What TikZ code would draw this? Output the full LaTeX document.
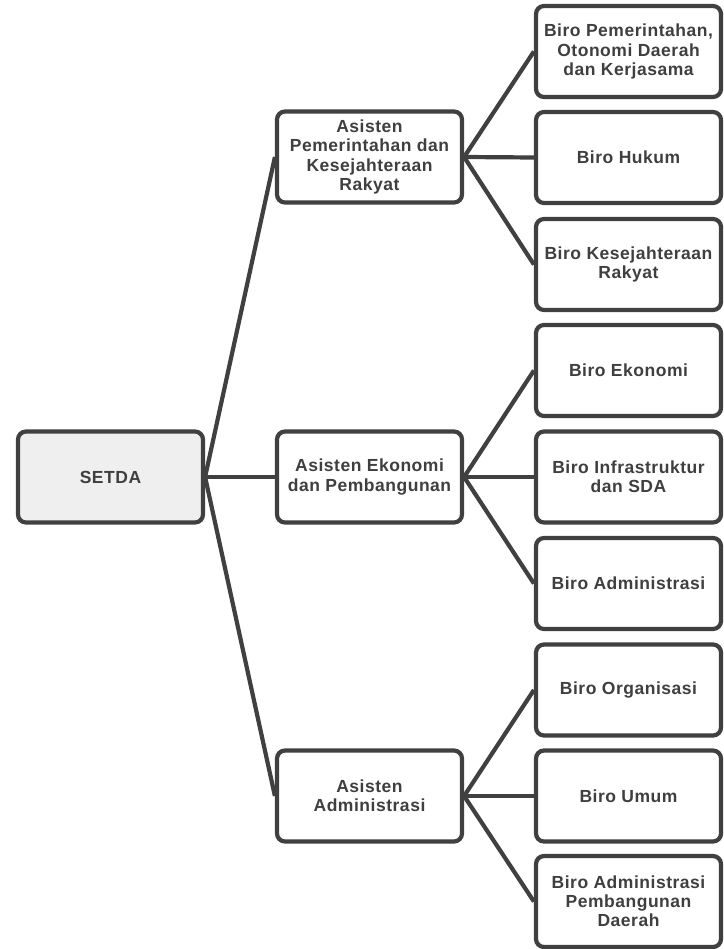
\documentclass[tikz,border=0pt]{standalone}
\usepackage{fontspec}
\setmainfont[LetterSpace=3]{Liberation Sans}
\definecolor{linec}{HTML}{404040}
\definecolor{textc}{HTML}{3F3F3F}
\definecolor{rootfill}{HTML}{EFEFEF}
\begin{document}
\begin{tikzpicture}[x=1pt,y=-1pt,
  box/.style={draw=linec, line width=4.2pt, rounded corners=8pt, fill=white,
    minimum width=185pt, minimum height=91pt, align=center, text=textc,
    inner sep=2pt, font=\bfseries\fontsize{17.5}{19.2}\selectfont},
  root/.style={box, fill=rootfill},
  conn/.style={draw=linec, line width=4.2pt}]
\useasboundingbox (0,0) rectangle (723,949);
% root
\node[root] (setda) at (110.5,477) {SETDA};
% level 2
\node[box] (a1) at (369.5,157) {Asisten\\Pemerintahan dan\\Kesejahteraan\\Rakyat};
\node[box] (a2) at (369.5,477) {Asisten Ekonomi\\dan Pembangunan};
\node[box] (a3) at (369.5,796) {Asisten\\Administrasi};
% level 3
\node[box] (b1) at (628.5,51.5) {Biro Pemerintahan,\\Otonomi Daerah\\dan Kerjasama};
\node[box] (b2) at (628.5,157.5) {Biro Hukum};
\node[box] (b3) at (628.5,264.5) {Biro Kesejahteraan\\Rakyat};
\node[box] (b4) at (628.5,370.5) {Biro Ekonomi};
\node[box] (b5) at (628.5,477) {Biro Infrastruktur\\dan SDA};
\node[box] (b6) at (628.5,583.5) {Biro Administrasi};
\node[box] (b7) at (628.5,690) {Biro Organisasi};
\node[box] (b8) at (628.5,796) {Biro Umum};
\node[box] (b9) at (628.5,901.5) {Biro Administrasi\\Pembangunan\\Daerah};
% connectors
\draw[conn] (setda.east) -- (a1.west);
\draw[conn] (setda.east) -- (a2.west);
\draw[conn] (setda.east) -- (a3.west);
\draw[conn] (a1.east) -- (b1.west);
\draw[conn] (a1.east) -- (b2.west);
\draw[conn] (a1.east) -- (b3.west);
\draw[conn] (a2.east) -- (b4.west);
\draw[conn] (a2.east) -- (b5.west);
\draw[conn] (a2.east) -- (b6.west);
\draw[conn] (a3.east) -- (b7.west);
\draw[conn] (a3.east) -- (b8.west);
\draw[conn] (a3.east) -- (b9.west);
\end{tikzpicture}
\end{document}
